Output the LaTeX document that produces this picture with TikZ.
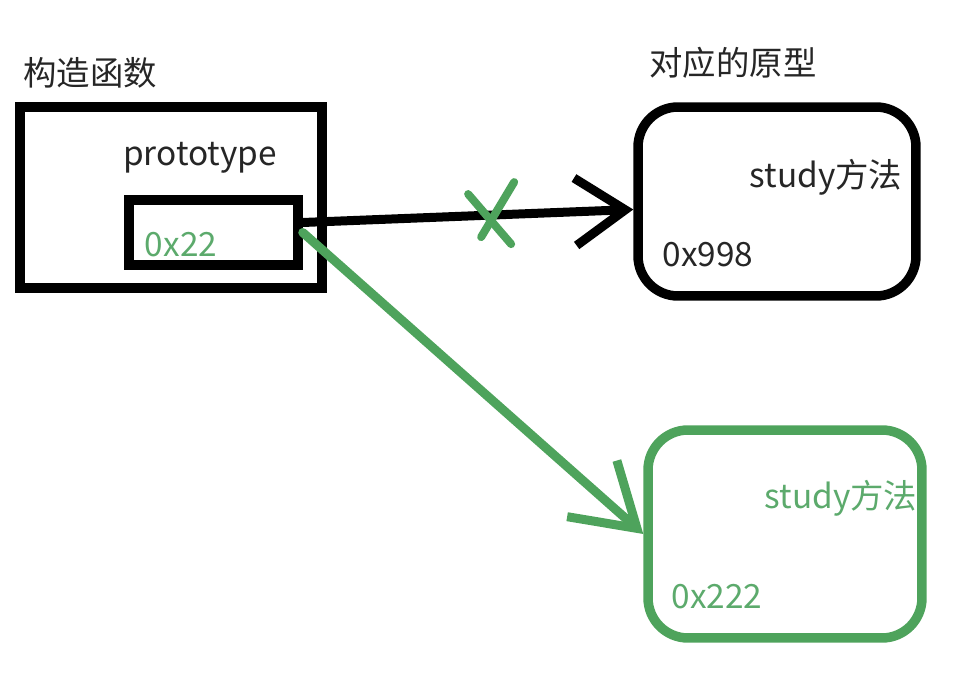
\documentclass[tikz,border=0pt]{standalone}
\usepackage{fontspec}
\setmainfont{Noto Sans CJK SC}
\usepackage{xcolor}
\usetikzlibrary{calc,positioning,arrows.meta}
\definecolor{penGreen}{RGB}{78,163,92}
\definecolor{txtGreen}{RGB}{92,170,108}

\begin{document}
\begin{tikzpicture}[x=0.02cm, y=-0.02cm,
    box/.style={draw=black, line width=0.19cm, inner sep=0pt, outer sep=0.095cm},
    txt/.style={font=\fontsize{19}{23}\selectfont, text=black!85, inner sep=0pt},
    pen/.style={line width=0.18cm, line cap=round, line join=round}]
            \useasboundingbox (0,0) rectangle (966,688);

            % Draw the constructor box with its prototype slot
            \node[box, minimum width=6.04cm, minimum height=3.62cm] (ctor) at (171,197.5) {};
            \node[txt] (ctorname) at (90,73) {构造函数};
            \node[txt] (slotname) at (200,158) {prototype};
            \node[box, minimum width=3.38cm, minimum height=1.3cm] (slot) at (213.5,232.5) {};
            \node[txt, text=txtGreen] (slotaddr) at (181,245) {0x22};

            % Draw the old prototype (black, rounded)
            \node[box, rounded corners=0.8cm, minimum width=5.56cm, minimum height=3.78cm] (proto) at (777,201.5) {};
            \node[txt] (protoname) at (733,63) {对应的原型};
            \node[txt] (protomethod) at (826,177) {study方法};
            \node[txt] (protoaddr) at (708,255) {0x998};

            % Draw the new prototype (green, rounded)
            \node[box, draw=penGreen, rounded corners=0.8cm, minimum width=5.48cm, minimum height=4.16cm] (newproto) at (785,534) {};
            \node[txt, text=txtGreen] (newmethod) at (841,498) {study方法};
            \node[txt, text=txtGreen] (newaddr) at (717,597) {0x222};

            % Old link, crossed out
            \draw[pen, -{Straight Barb[length=1cm, width=1.35cm]}] ($(slot.east)+(0,-10)$) -- coordinate[pos=0.57] (cut) ($(proto.west)+(0,8)$);
            \draw[pen, draw=penGreen, line width=0.16cm] ($(cut)+(-23,-21)$) -- ($(cut)+(20,29)$);
            \draw[pen, draw=penGreen, line width=0.16cm] ($(cut)+(23,-33)$) -- ($(cut)+(-10,22)$);

            % New link to the green prototype
            \draw[pen, draw=penGreen, -{Straight Barb[length=1.2cm, width=1.5cm]}] (slot.east) -- (newproto.west);
        \end{tikzpicture}
\end{document}
